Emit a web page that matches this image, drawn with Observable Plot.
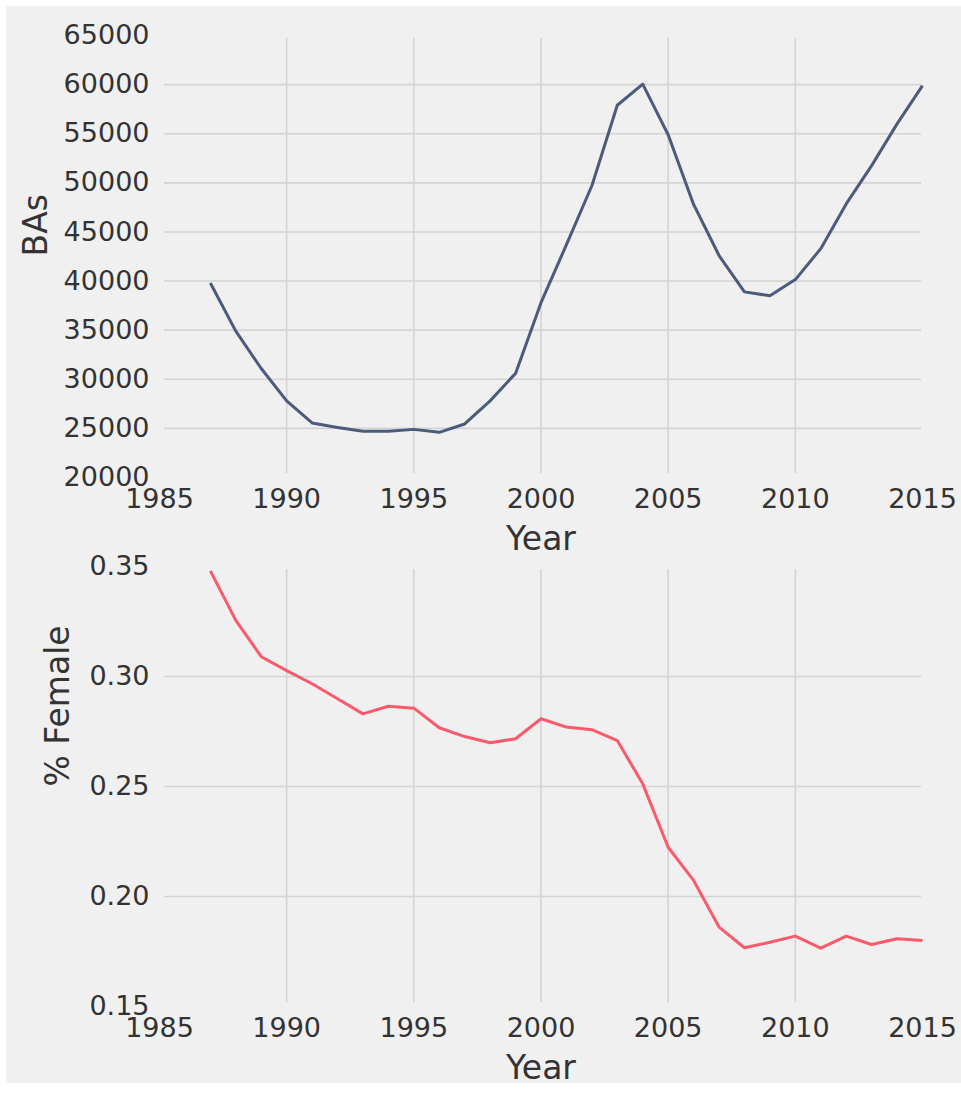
<!DOCTYPE html>
<html>
<head>
<meta charset="utf-8">
<script src="https://cdn.jsdelivr.net/npm/d3@7"></script>
<script src="https://cdn.jsdelivr.net/npm/@observablehq/plot@0.6"></script>
<style>
  html, body { margin: 0; padding: 0; background: #ffffff; }
  #bg { position: absolute; left: 6px; top: 6px; width: 955px; height: 1077px; background: #f0f0f0; }
  #top { position: absolute; left: 0; top: 0; }
  #bottom { position: absolute; left: 0; top: 550px; }
  svg { background: transparent !important; overflow: visible; }
</style>
</head>
<body>
<div id="bg"></div>
<div id="top"></div>
<div id="bottom"></div>
<script>
const years = [1987,1988,1989,1990,1991,1992,1993,1994,1995,1996,1997,1998,1999,2000,2001,2002,2003,2004,2005,2006,2007,2008,2009,2010,2011,2012,2013,2014,2015];
const bas = [39800,34900,31100,27800,25550,25100,24700,24700,24900,24600,25450,27800,30600,37800,43700,49700,57900,60050,54900,47800,42600,38900,38500,40150,43300,47850,51750,56000,59900];
const pctFemale = [0.348,0.3255,0.309,0.3027,0.2967,0.2899,0.2830,0.2865,0.2856,0.2767,0.2727,0.2699,0.2717,0.2808,0.2770,0.2758,0.2709,0.2512,0.2224,0.2073,0.1861,0.1767,0.1792,0.1820,0.1765,0.1820,0.1782,0.1808,0.1800];
const xTicks = [1985,1990,1995,2000,2005,2010,2015];
const xGrid = [1990,1995,2000,2005,2010];
const basTicks = [20000,25000,30000,35000,40000,45000,50000,55000,60000,65000];
const basGrid = [25000,30000,35000,40000,45000,50000,55000,60000];
const femTicks = [0.15,0.20,0.25,0.30,0.35];
const femGrid = [0.20,0.25,0.30];

const topData = years.map((y, i) => ({year: y, value: bas[i]}));
const botData = years.map((y, i) => ({year: y, value: pctFemale[i]}));

const font = "DejaVu Sans";
const gridColor = "#d4d4d4";
const textColor = "#333333";

function panel({data, yDomain, yTicks, yGrid, yFormat, color, yLabel, yLabelDx, height, marginTop, marginBottom}) {
  return Plot.plot({
    width: 961,
    height,
    marginLeft: 159,
    marginRight: 39,
    marginTop,
    marginBottom,
    style: {fontFamily: font, background: "transparent", color: textColor, overflow: "visible"},
    x: {domain: [1985, 2015], label: null},
    y: {domain: yDomain, label: null},
    marks: [
      Plot.ruleX(xGrid, {stroke: gridColor, strokeWidth: 1.6, insetTop: 3, insetBottom: 4}),
      Plot.ruleY(yGrid, {stroke: gridColor, strokeWidth: 1.6, insetLeft: 5, insetRight: 1}),
      Plot.axisX({ticks: xTicks, tickFormat: d => String(d), tickSize: 0, tickPadding: 11, fontSize: 27, fill: textColor, label: null}),
      Plot.axisY({ticks: yTicks, tickFormat: yFormat, tickSize: 0, tickPadding: 10, fontSize: 27, fill: textColor, label: null}),
      Plot.line(data, {x: "year", y: "value", stroke: color, strokeWidth: 3, strokeLinejoin: "round", strokeLinecap: "butt"}),
      Plot.text(["Year"], {frameAnchor: "bottom", dy: 62, fontSize: 33, fill: textColor, lineAnchor: "middle"}),
      Plot.text([yLabel], {frameAnchor: "left", dx: yLabelDx, rotate: -90, fontSize: 33, fill: textColor, lineAnchor: "middle"})
    ]
  });
}

document.getElementById("top").append(panel({
  data: topData,
  yDomain: [20000, 65000],
  yTicks: basTicks,
  yGrid: basGrid,
  yFormat: d => String(d),
  color: "#4a5b7c",
  yLabel: "BAs",
  yLabelDx: -123,
  height: 566,
  marginTop: 35,
  marginBottom: 89
}));

document.getElementById("bottom").append(panel({
  data: botData,
  yDomain: [0.15, 0.35],
  yTicks: femTicks,
  yGrid: femGrid,
  yFormat: d3.format(".2f"),
  color: "#fb5a6c",
  yLabel: "% Female",
  yLabelDx: -101,
  height: 543,
  marginTop: 16,
  marginBottom: 87
}));
</script>
</body>
</html>
